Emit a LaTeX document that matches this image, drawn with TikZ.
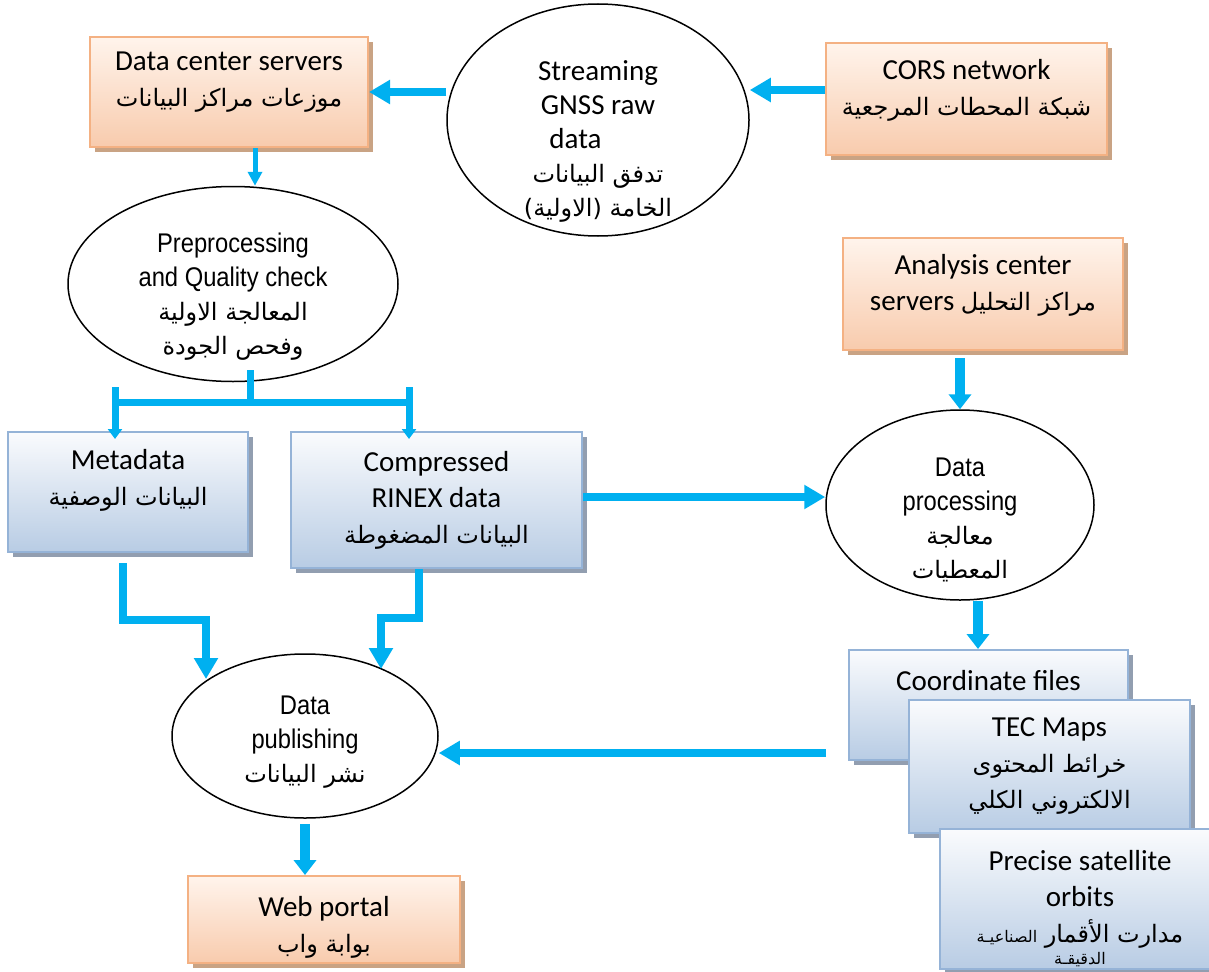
\documentclass[tikz,border=0pt]{standalone}
\usepackage{fontspec}
\setmainfont{Carlito}
\newfontfamily\arabicfont[Script=Arabic]{DejaVu Sans}
\newfontfamily\narrowfont[FakeStretch=0.88]{Liberation Sans}
\TeXXeTstate=1
\usetikzlibrary{shapes.geometric,arrows.meta,shadows,calc}
\definecolor{arrowblue}{HTML}{00B0F0}
\definecolor{orangetop}{HTML}{FFF4EC}
\definecolor{orangebot}{HTML}{F8CBAD}
\definecolor{orangeline}{HTML}{F4B183}
\definecolor{orangeshadow}{HTML}{C9A384}
\definecolor{bluetop}{HTML}{FAFBFD}
\definecolor{bluebot}{HTML}{B8CCE4}
\definecolor{blueline}{HTML}{95B3D7}
\definecolor{blueshadow}{HTML}{929EB0}
\newcommand{\artext}[1]{{\arabicfont\fontsize{24}{36}\selectfont\beginR #1\endR}}
\newcommand{\padbelow}[1]{\rule[-#1]{0pt}{0pt}}
\newcommand{\padabove}[1]{\rule{0pt}{#1}}

\begin{document}
\begin{tikzpicture}[x=1pt,y=-1pt,
  orangebox/.style={draw=orangeline, line width=2pt, top color=orangetop, bottom color=orangebot,
    drop shadow={shadow xshift=5pt, shadow yshift=-5pt, fill=orangeshadow, opacity=1},
    align=center, inner sep=2pt, font=\fontsize{29}{36}\selectfont},
  bluebox/.style={draw=blueline, line width=2pt, top color=bluetop, bottom color=bluebot,
    drop shadow={shadow xshift=5pt, shadow yshift=-5pt, fill=blueshadow, opacity=1},
    align=center, inner sep=2pt, font=\fontsize{29}{36}\selectfont},
  bubble/.style={draw, ellipse, line width=1.5pt, fill=white, inner sep=0pt},
  bubbletext/.style={align=center, font=\narrowfont\fontsize{27}{34}\selectfont},
  flow/.style={arrowblue, line width=8pt, -{Triangle[width=23pt,length=21pt]}},
  shortflow/.style={arrowblue, line width=10pt, -{Triangle[width=22pt,length=15pt]}},
  thinflow/.style={arrowblue, line width=5pt, -{Triangle[width=14pt,length=14pt]}},
  branchflow/.style={arrowblue, line width=7pt, -{Triangle[width=14pt,length=10pt]}},
  bar/.style={arrowblue, line width=7pt}]
\useasboundingbox (0,0) rectangle (1209,971);
\clip (0,0) rectangle (1209,971);

\node[orangebox, minimum width=278pt, minimum height=110pt] (dcs) at (229,92)
  {Data center servers\\ \artext{موزعات مراكز البيانات}\padbelow{26pt}};
\node[bubble, minimum width=302pt, minimum height=232pt] (stream) at (598,120) {};
\node[bubbletext, font=\fontsize{29}{34}\selectfont] (streamtxt) at (598,141)
  {Streaming\\ GNSS raw\\ data\hspace*{45pt}\mbox{}\\ \artext{تدفق البيانات}\\ \artext{الخامة (الاولية)}};
\node[orangebox, minimum width=281pt, minimum height=112pt] (cors) at (966.5,99)
  {CORS network\\ \artext{شبكة المحطات المرجعية}\padbelow{24pt}};

\node[bubble, minimum width=330pt, minimum height=195pt] (preproc) at (233,284) {};
\node[bubbletext] (preproctxt) at (233,297)
  {Preprocessing\\ and Quality check\\ \artext{المعالجة الاولية}\\ \artext{وفحص الجودة}};
\node[orangebox, minimum width=280pt, minimum height=112pt] (acs) at (983,294)
  {Analysis center\\ servers \artext{مراكز التحليل}\padbelow{24pt}};

\node[bluebox, minimum width=240pt, minimum height=120pt] (meta) at (128,492)
  {Metadata\\ \artext{البيانات الوصفية}\padbelow{30pt}};
\node[bluebox, minimum width=291pt, minimum height=136pt] (rinex) at (436.5,500)
  {Compressed\\ RINEX data\\ \artext{البيانات المضغوطة}};
\node[bubble, minimum width=268pt, minimum height=190pt] (dproc) at (960,505) {};
\node[bubbletext] (dproctxt) at (960,520)
  {Data\\ processing\\ \artext{معالجة}\\ \artext{المعطيات}};

\node[bluebox, minimum width=279pt, minimum height=110pt] (coord) at (988.5,705)
  {\raisebox{50pt}{Coordinate files}};
\node[bluebox, minimum width=281pt, minimum height=133pt] (tec) at (1049.5,766.5)
  {TEC Maps\\ \artext{خرائط المحتوى}\\ \artext{الالكتروني الكلي}};
\node[bluebox, minimum width=280pt, minimum height=132pt] (orbits) at (1080,899)
  {\padabove{40pt}Precise satellite\\ orbits\\
   \artext{مدارت الأقمار {\fontsize{16}{20}\selectfont الصناعيـة}}\\[-14pt]
   \artext{\fontsize{16}{20}\selectfont الدقيقـة}};

\node[bubble, minimum width=266pt, minimum height=164pt] (publish) at (305,736) {};
\node[bubbletext] (publishtxt) at (305,742)
  {Data\\ publishing\\ \artext{نشر البيانات}};
\node[orangebox, minimum width=272pt, minimum height=87pt] (web) at (324,919.5)
  {\padabove{36pt}Web portal\\ \artext{بوابة واب}};

\draw[flow] ([yshift=9pt]cors.west) -- ([yshift=9pt]cors.west -| stream.east);
\draw[flow] (stream.west |- dcs.east) -- (dcs.east);
\draw[thinflow] ([xshift=26pt]dcs.south) -- ([xshift=26pt]dcs.south |- preproc.north);

\coordinate (forkL) at (115,402);
\coordinate (forkR) at (409,402);
\draw[bar] ([xshift=17pt,yshift=12pt]preproc.south) -- ([xshift=17pt]preproc.south |- forkL);
\draw[bar] (forkL) -- (forkR);
\draw[branchflow, shorten >=-8pt] ([yshift=15pt]forkL) -- (forkL |- meta.north);
\draw[branchflow, shorten >=-8pt] ([yshift=15pt]forkR) -- (forkR |- rinex.north);

\coordinate (mbend) at (206,620);
\coordinate (rbend) at (381,618);
\draw[flow] ([xshift=-5pt,yshift=-10pt]meta.south) |- (mbend) -- ($(publish.center)+(-99,-57)$);
\draw[flow] ([xshift=-17.5pt]rinex.south) |- (rbend) -- ($(publish.center)+(76,-67)$);
\draw[flow] ([yshift=3pt]rinex.east) -- ([yshift=3pt]rinex.east -| dproc.west);
\draw[shortflow] ([yshift=-7pt]dproc.north |- acs.south) -- (dproc.north);
\draw[shortflow] ([xshift=18pt]dproc.south) -- ([xshift=18pt]dproc.south |- coord.north);
\draw[flow] ([xshift=-22pt,yshift=-48pt]coord.west) -- ([yshift=-48pt]coord.west -| publish.east);
\draw[shortflow] ([yshift=-5pt]publish.south) -- (publish.south |- web.north);
\end{tikzpicture}
\end{document}
